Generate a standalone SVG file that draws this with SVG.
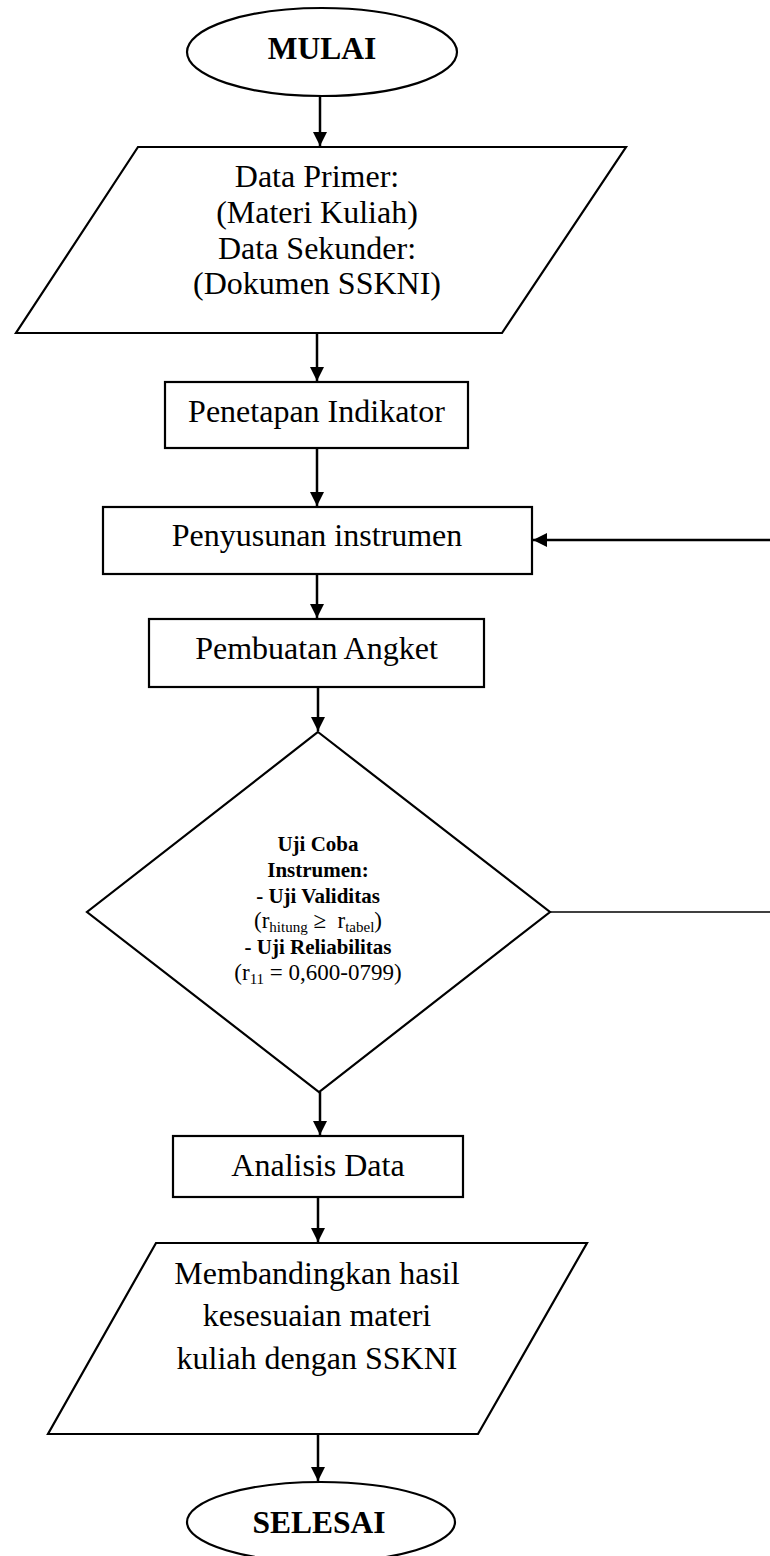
<svg xmlns="http://www.w3.org/2000/svg" width="770" height="1556" viewBox="0 0 770 1556">
<style>
.shape{fill:#fff;stroke:#000;stroke-width:2.2}
.t{font-family:"Liberation Serif","Times New Roman",serif;font-size:32px;fill:#000;text-anchor:middle}
.b{font-weight:bold;font-size:31.5px}
.d{font-family:"Liberation Serif","Times New Roman",serif;font-size:23px;fill:#000;text-anchor:middle}
.db{font-weight:bold;font-size:21px}
.c{fill:none;stroke:#000;stroke-width:2.5}
.thin{fill:none;stroke:#000;stroke-width:1.6}
</style>
<defs>
<marker id="ah" markerUnits="userSpaceOnUse" markerWidth="15" markerHeight="15" refX="14" refY="7" orient="auto">
<path d="M0,0 L14,7 L0,14 z" fill="#000"/>
</marker>
</defs>
<rect width="770" height="1556" fill="#fff"/>
<g id="connectors">
<line class="c" x1="320" y1="97" x2="320" y2="146" marker-end="url(#ah)"/>
<line class="c" x1="317" y1="333" x2="317" y2="381" marker-end="url(#ah)"/>
<line class="c" x1="317" y1="448" x2="317" y2="506" marker-end="url(#ah)"/>
<line class="c" x1="317" y1="574" x2="317" y2="618" marker-end="url(#ah)"/>
<line class="c" x1="318" y1="687" x2="318" y2="731" marker-end="url(#ah)"/>
<line class="c" x1="320" y1="1092" x2="320" y2="1135" marker-end="url(#ah)"/>
<line class="c" x1="318" y1="1197" x2="318" y2="1242" marker-end="url(#ah)"/>
<line class="c" x1="318" y1="1434" x2="318" y2="1481" marker-end="url(#ah)"/>
<line class="c" x1="770" y1="540" x2="533" y2="540" marker-end="url(#ah)"/>
<line class="thin" x1="550" y1="912" x2="770" y2="912"/>
</g>
<g id="mulai">
<ellipse class="shape" cx="322" cy="52" rx="135" ry="44"/>
<text class="t b" x="322" y="59">MULAI</text>
</g>
<g id="data">
<polygon class="shape" points="138,147 626,147 502,333 16,333"/>
<text class="t" x="317" y="187">Data Primer:</text>
<text class="t" x="317" y="223">(Materi Kuliah)</text>
<text class="t" x="317" y="259">Data Sekunder:</text>
<text class="t" x="317" y="294">(Dokumen SSKNI)</text>
</g>
<g id="penetapan">
<rect class="shape" x="165" y="382" width="303" height="66"/>
<text class="t" x="316.5" y="422">Penetapan Indikator</text>
</g>
<g id="penyusunan">
<rect class="shape" x="103" y="507" width="429" height="67"/>
<text class="t" x="317" y="546">Penyusunan instrumen</text>
</g>
<g id="pembuatan">
<rect class="shape" x="149" y="619" width="335" height="68"/>
<text class="t" x="316.5" y="659">Pembuatan Angket</text>
</g>
<g id="uji">
<polygon class="shape" points="318,732 550,912 319,1092 87,912"/>
<text class="d db" x="318" y="851">Uji Coba</text>
<text class="d db" x="318" y="877">Instrumen:</text>
<text class="d db" x="318" y="903">- Uji Validitas</text>
<text class="d" x="318" y="928" xml:space="preserve">(r<tspan font-size="15" dy="4">hitung</tspan><tspan dy="-4"> ≥  r</tspan><tspan font-size="15" dy="4">tabel</tspan><tspan dy="-4">)</tspan></text>
<text class="d db" x="318" y="954">- Uji Reliabilitas</text>
<text class="d" x="318" y="980">(r<tspan font-size="15" dy="4">11</tspan><tspan dy="-4"> = 0,600-0799)</tspan></text>
</g>
<g id="analisis">
<rect class="shape" x="173" y="1136" width="290" height="61"/>
<text class="t" x="318" y="1176">Analisis Data</text>
</g>
<g id="membandingkan">
<polygon class="shape" points="156,1243 587,1243 478,1434 48,1434"/>
<text class="t" x="317" y="1284">Membandingkan hasil</text>
<text class="t" x="317" y="1326">kesesuaian materi</text>
<text class="t" x="317" y="1369">kuliah dengan SSKNI</text>
</g>
<g id="selesai">
<ellipse class="shape" cx="321" cy="1522" rx="134" ry="40"/>
<text class="t b" x="319" y="1533">SELESAI</text>
</g>
</svg>
